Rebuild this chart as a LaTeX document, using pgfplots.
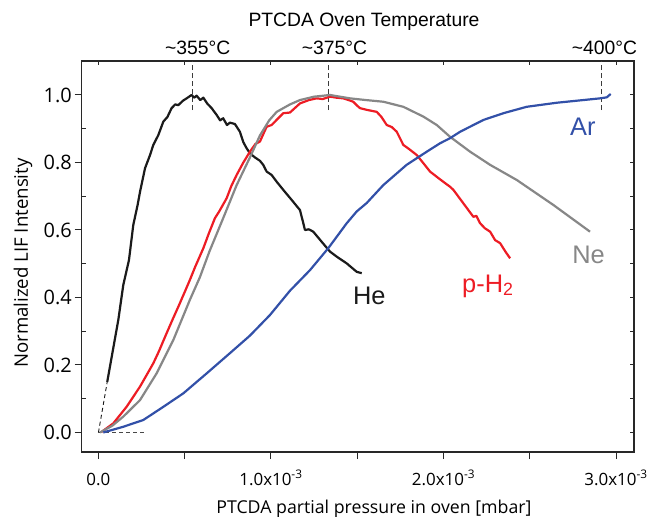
\documentclass[border=0pt]{standalone}
\usepackage{fontspec}
\setmainfont{Liberation Sans}
\newfontfamily\osans{Open Sans}
\usepackage{pgfplots}
\pgfplotsset{compat=1.18}
\definecolor{cHe}{RGB}{26,26,26}
\definecolor{cH}{RGB}{237,28,36}
\definecolor{cNe}{RGB}{135,135,135}
\definecolor{cAr}{RGB}{50,80,168}
\definecolor{frm}{RGB}{40,40,40}
\begin{document}
\begin{tikzpicture}
\useasboundingbox (-81.7bp,-65bp) rectangle (570.3bp,452bp);
% overlay axis: inside ticks on top and right
\begin{axis}[at={(0,0)}, anchor=south west, scale only axis,
  width=552.3bp, height=391bp,
  xmin=-0.097, xmax=3.104, ymin=-0.0578, ymax=1.1007,
  axis line style={draw=none}, xtick pos=top, ytick pos=right,
  tick align=inside, major tick length=4.5bp,
  tick style={frm, line width=1bp},
  xtick={0,0.5,1,1.5,2,2.5,3}, ytick={0,0.1,0.2,0.3,0.4,0.5,0.6,0.7,0.8,0.9,1.0},
  xticklabels={}, yticklabels={},
  xticklabel style={text opacity=0}, yticklabel style={text opacity=0}]
\end{axis}
% overlay axis: inside minor ticks on left
\begin{axis}[at={(0,0)}, anchor=south west, scale only axis,
  width=552.3bp, height=391bp,
  xmin=-0.097, xmax=3.104, ymin=-0.0578, ymax=1.1007,
  axis line style={draw=none}, xtick=\empty, ytick pos=left,
  tick align=inside, major tick length=4bp,
  tick style={frm, line width=1bp},
  ytick={0.1,0.3,0.5,0.7,0.9}, yticklabels={},
  yticklabel style={text opacity=0}]
\end{axis}
\begin{axis}[name=ax, at={(0,0)}, anchor=south west, scale only axis,
  width=552.3bp, height=391bp,
  xmin=-0.097, xmax=3.104, ymin=-0.0578, ymax=1.1007,
  clip=false,
  axis line style={frm, line width=1.1bp},
  tick style={frm, line width=1bp},
  xtick pos=bottom, ytick pos=left, tick align=outside,
  major tick length=7bp, minor tick length=7bp,
  xtick={0,1,2,3}, minor xtick={0.5,1.5,2.5},
  xticklabels={0.0,{1.0x10\textsuperscript{-3}},{2.0x10\textsuperscript{-3}},{3.0x10\textsuperscript{-3}}},
  ytick={0,0.2,0.4,0.6,0.8,1.0},
  yticklabels={0.0,0.2,0.4,0.6,0.8,1.0},
  xticklabel style={font=\osans\fontsize{17}{20}\selectfont, anchor=base, yshift=-26bp, inner sep=0pt},
  yticklabel style={font=\osans\fontsize{20}{24}\selectfont, inner sep=0pt, xshift=-2.7bp},
]
% dashed guides
\addplot[cHe, line width=0.9bp, dash pattern=on 4bp off 3bp] coordinates {(0,0) (0.051,0.150)};
\addplot[cHe!80, line width=0.9bp, dash pattern=on 4bp off 3bp] coordinates {(0,0) (0.28,0)};
\addplot[cHe!85, line width=0.8bp, dash pattern=on 5bp off 3bp] coordinates {(0.547,0.955) (0.547,1.1007)};
\addplot[cHe!85, line width=0.8bp, dash pattern=on 5bp off 3bp] coordinates {(1.333,0.955) (1.333,1.1007)};
\addplot[cHe!85, line width=0.8bp, dash pattern=on 5bp off 3bp] coordinates {(2.915,0.955) (2.915,1.1007)};
% He
\addplot[cHe, line width=2.2bp, line join=round] coordinates {
(0.051,0.150)(0.080,0.233)(0.115,0.333)(0.144,0.437)(0.177,0.511)(0.202,0.615)(0.227,0.674)(0.241,0.713)(0.270,0.783)(0.299,0.822)(0.318,0.852)(0.347,0.881)(0.376,0.921)(0.400,0.935)(0.424,0.961)(0.445,0.972)(0.463,0.970)(0.490,0.983)(0.511,0.990)(0.540,1.0)(0.555,0.992)(0.569,0.998)(0.590,0.985)(0.608,0.992)(0.630,0.975)(0.656,0.961)(0.685,0.941)(0.705,0.925)(0.723,0.931)(0.745,0.911)(0.762,0.918)(0.791,0.914)(0.820,0.891)(0.840,0.860)(0.859,0.842)(0.880,0.826)(0.907,0.815)(0.936,0.805)(0.955,0.793)(0.975,0.773)(1.004,0.763)(1.033,0.743)(1.071,0.719)(1.120,0.689)(1.168,0.659)(1.185,0.625)(1.197,0.600)(1.220,0.602)(1.245,0.595)(1.294,0.565)(1.342,0.536)(1.381,0.521)(1.439,0.501)(1.497,0.476)(1.526,0.472)};
% p-H2
\addplot[cH, line width=2.2bp, line join=round] coordinates {
(0.019,0.002)(0.086,0.027)(0.163,0.076)(0.241,0.136)(0.318,0.205)(0.350,0.240)(0.395,0.294)(0.430,0.335)(0.472,0.383)(0.530,0.452)(0.560,0.490)(0.608,0.546)(0.640,0.590)(0.675,0.635)(0.700,0.655)(0.743,0.694)(0.770,0.730)(0.801,0.763)(0.840,0.800)(0.878,0.832)(0.910,0.855)(0.936,0.862)(0.975,0.906)(1.004,0.911)(1.040,0.930)(1.071,0.946)(1.110,0.948)(1.168,0.975)(1.220,0.985)(1.265,0.990)(1.300,0.988)(1.342,0.995)(1.380,0.992)(1.419,0.990)(1.450,0.985)(1.477,0.980)(1.500,0.968)(1.516,0.961)(1.555,0.956)(1.613,0.950)(1.640,0.935)(1.671,0.911)(1.700,0.905)(1.729,0.891)(1.767,0.852)(1.800,0.840)(1.845,0.822)(1.880,0.800)(1.922,0.773)(1.980,0.750)(2.038,0.728)(2.057,0.719)(2.115,0.679)(2.173,0.639)(2.190,0.642)(2.212,0.620)(2.240,0.605)(2.270,0.595)(2.299,0.570)(2.328,0.561)(2.360,0.535)(2.386,0.516)};
% Ne
\addplot[cNe, line width=2.2bp, line join=round] coordinates {
(0.009,0)(0.080,0.020)(0.144,0.047)(0.241,0.096)(0.337,0.175)(0.434,0.274)(0.530,0.393)(0.588,0.460)(0.643,0.536)(0.723,0.635)(0.801,0.733)(0.878,0.815)(0.936,0.880)(0.990,0.925)(1.033,0.950)(1.110,0.972)(1.168,0.985)(1.250,0.995)(1.342,1.0)(1.458,0.990)(1.550,0.985)(1.651,0.980)(1.767,0.965)(1.883,0.936)(1.961,0.911)(2.038,0.876)(2.154,0.832)(2.270,0.793)(2.425,0.748)(2.637,0.674)(2.849,0.595)};
% Ar
\addplot[cAr, line width=2.2bp, line join=round] coordinates {
(0.028,0)(0.144,0.017)(0.260,0.037)(0.376,0.076)(0.492,0.116)(0.627,0.175)(0.762,0.235)(0.878,0.287)(0.994,0.348)(1.110,0.420)(1.226,0.481)(1.332,0.546)(1.439,0.620)(1.497,0.655)(1.555,0.680)(1.651,0.733)(1.786,0.793)(1.903,0.832)(1.980,0.857)(2.038,0.872)(2.096,0.891)(2.231,0.926)(2.347,0.946)(2.482,0.965)(2.656,0.977)(2.772,0.983)(2.907,0.990)(2.946,0.993)(2.969,1.003)};
% curve labels
\node[anchor=base west, inner sep=0pt, text=cHe, font=\fontsize{25.5}{30}\selectfont] at (axis cs:1.475,0.378) {He};
\node[anchor=base west, inner sep=0pt, text=cH, font=\fontsize{25.5}{30}\selectfont] at (axis cs:2.107,0.416) {p-H\textsubscript{2}};
\node[anchor=base west, inner sep=0pt, text=cNe, font=\fontsize{25.5}{30}\selectfont] at (axis cs:2.745,0.502) {Ne};
\node[anchor=base west, inner sep=0pt, text=cAr, font=\fontsize{25.5}{30}\selectfont] at (axis cs:2.733,0.881) {Ar};
% top labels
\node[anchor=base, inner sep=0pt, font=\fontsize{19.4}{23}\selectfont] at ([xshift=5bp, yshift=6bp]axis cs:0.547,1.1007) {\textasciitilde355°C};
\node[anchor=base, inner sep=0pt, font=\fontsize{19.4}{23}\selectfont] at ([xshift=6bp, yshift=6bp]axis cs:1.333,1.1007) {\textasciitilde375°C};
\node[anchor=base, inner sep=0pt, font=\fontsize{19.4}{23}\selectfont] at ([xshift=3bp, yshift=6bp]axis cs:2.915,1.1007) {\textasciitilde400°C};
\node[anchor=base, inner sep=0pt, font=\fontsize{19.4}{23}\selectfont] at ([yshift=34bp]axis cs:1.539,1.1007) {PTCDA Oven Temperature};
% axis labels
\node[anchor=base, inner sep=0pt, font=\osans\fontsize{17.8}{21}\selectfont] at ([yshift=-61bp]axis cs:1.597,-0.0578) {PTCDA partial pressure in oven [mbar]};
\node[rotate=90, anchor=center, inner sep=0pt, font=\osans\fontsize{18.7}{22}\selectfont] at (axis description cs:-0.106,0.483) {Normalized LIF Intensity};
\end{axis}
\end{tikzpicture}
\end{document}
